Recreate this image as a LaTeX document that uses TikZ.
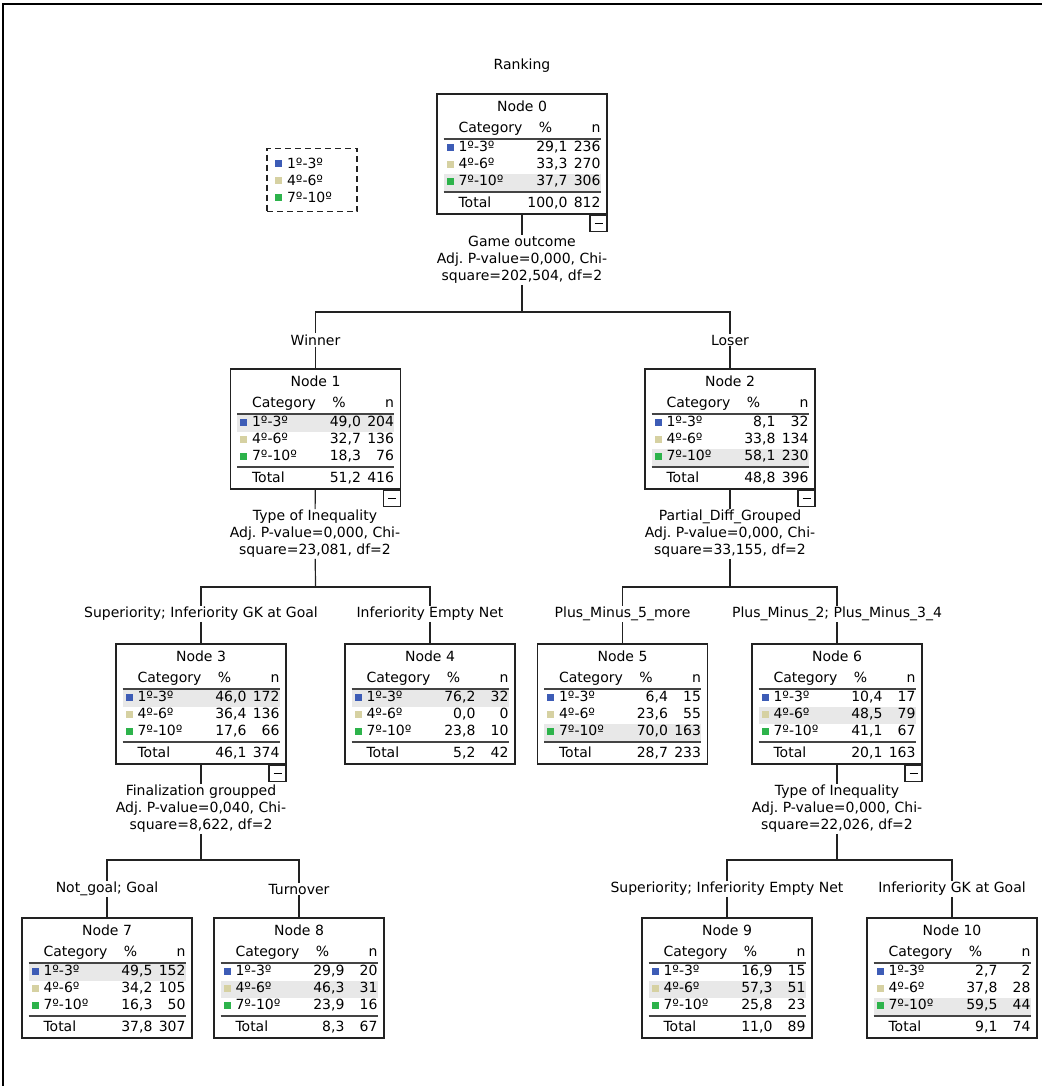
\documentclass[tikz,border=0pt]{standalone}
\usepackage{fontspec}
\setmainfont{DejaVu Sans}
\usepackage{colortbl}
\usetikzlibrary{positioning, calc}
\definecolor{cblue}{HTML}{3D5CB6}
\definecolor{ctan}{HTML}{D6D1A2}
\definecolor{cgreen}{HTML}{2DB34B}
\definecolor{hlgray}{HTML}{E8E8E8}
\definecolor{rulegray}{HTML}{444444}
\definecolor{kline}{HTML}{222222}

\frenchspacing
\setlength{\tabcolsep}{0pt}
\setlength{\arrayrulewidth}{2pt}
\arrayrulecolor{rulegray}
\newcolumntype{R}[1]{>{\raggedleft\arraybackslash}p{#1}}
\newcommand{\sq}[1]{\raisebox{1pt}{\textcolor{#1}{\rule{7pt}{7pt}}}}
\newcommand{\crow}[4]{\hspace{3pt}\sq{#1}\hspace{5pt}#2 & #3 & #4\\}
\newcommand{\chead}[1]{\noalign{\vskip5pt}\multicolumn{3}{c}{#1}\\[4pt] \hspace{15pt}Category & \multicolumn{1}{c}{\%} & n\\ \hline}
\newcommand{\ctot}[2]{\hline\noalign{\vskip3pt} \hspace{15pt}Total & #1 & #2\\}

\begin{document}
\begin{tikzpicture}[x=1pt, y=-1pt, font=\fontsize{14}{17}\selectfont]

\tikzstyle{tnode} = [draw=kline, line width=1.2pt, fill=white, inner xsep=6.5pt, inner ysep=1pt, minimum height=118pt]
\tikzstyle{edge} = [draw=kline, line width=1.2pt]
\tikzstyle{split} = [align=center, inner sep=1pt]
\tikzstyle{branch} = [fill=white, inner sep=1pt]
\tikzstyle{minus} = [draw=kline, line width=1.2pt, fill=white, minimum width=17pt, minimum height=16pt, inner sep=0pt]
\tikzstyle{legend} = [draw=kline, line width=1.2pt, dash pattern=on 6pt off 4pt, text width=74pt, inner xsep=8pt, inner ysep=9.5pt, align=left]

\useasboundingbox (0,0) rectangle (1042,1086);
\draw[line width=1.5pt] (3,1086) -- (3,4) -- (1042,4);

\node (title) at (522,66) {Ranking};

% Legend
\node[legend] (lg) at (312,180) {\sq{cblue}\hspace{5pt}1º-3º\\ \sq{ctan}\hspace{5pt}4º-6º\\ \sq{cgreen}\hspace{5pt}7º-10º};

% Root
\node[tnode] (n0) at (522,154) {\begin{tabular}{p{80pt}R{44pt}R{33pt}}
\chead{Node 0}
\crow{cblue}{1º-3º}{29,1}{236}
\crow{ctan}{4º-6º}{33,3}{270}
\rowcolor{hlgray}\crow{cgreen}{7º-10º}{37,7}{306}
\ctot{100,0}{812}
\end{tabular}};

% Level 1
\node[tnode] (n1) at (315.5,429) {\begin{tabular}{p{80pt}R{44pt}R{33pt}}
\chead{Node 1}
\rowcolor{hlgray}\crow{cblue}{1º-3º}{49,0}{204}
\crow{ctan}{4º-6º}{32,7}{136}
\crow{cgreen}{7º-10º}{18,3}{76}
\ctot{51,2}{416}
\end{tabular}};
\node[tnode] (n2) at (730,429) {\begin{tabular}{p{80pt}R{44pt}R{33pt}}
\chead{Node 2}
\crow{cblue}{1º-3º}{8,1}{32}
\crow{ctan}{4º-6º}{33,8}{134}
\rowcolor{hlgray}\crow{cgreen}{7º-10º}{58,1}{230}
\ctot{48,8}{396}
\end{tabular}};

% Level 2
\node[tnode] (n3) at (201,704) {\begin{tabular}{p{80pt}R{44pt}R{33pt}}
\chead{Node 3}
\rowcolor{hlgray}\crow{cblue}{1º-3º}{46,0}{172}
\crow{ctan}{4º-6º}{36,4}{136}
\crow{cgreen}{7º-10º}{17,6}{66}
\ctot{46,1}{374}
\end{tabular}};
\node[tnode] (n4) at (430,704) {\begin{tabular}{p{80pt}R{44pt}R{33pt}}
\chead{Node 4}
\rowcolor{hlgray}\crow{cblue}{1º-3º}{76,2}{32}
\crow{ctan}{4º-6º}{0,0}{0}
\crow{cgreen}{7º-10º}{23,8}{10}
\ctot{5,2}{42}
\end{tabular}};
\node[tnode] (n5) at (622.5,704) {\begin{tabular}{p{80pt}R{44pt}R{33pt}}
\chead{Node 5}
\crow{cblue}{1º-3º}{6,4}{15}
\crow{ctan}{4º-6º}{23,6}{55}
\rowcolor{hlgray}\crow{cgreen}{7º-10º}{70,0}{163}
\ctot{28,7}{233}
\end{tabular}};
\node[tnode] (n6) at (837,704) {\begin{tabular}{p{80pt}R{44pt}R{33pt}}
\chead{Node 6}
\crow{cblue}{1º-3º}{10,4}{17}
\rowcolor{hlgray}\crow{ctan}{4º-6º}{48,5}{79}
\crow{cgreen}{7º-10º}{41,1}{67}
\ctot{20,1}{163}
\end{tabular}};

% Level 3
\node[tnode] (n7) at (107,978) {\begin{tabular}{p{80pt}R{44pt}R{33pt}}
\chead{Node 7}
\rowcolor{hlgray}\crow{cblue}{1º-3º}{49,5}{152}
\crow{ctan}{4º-6º}{34,2}{105}
\crow{cgreen}{7º-10º}{16,3}{50}
\ctot{37,8}{307}
\end{tabular}};
\node[tnode] (n8) at (299,978) {\begin{tabular}{p{80pt}R{44pt}R{33pt}}
\chead{Node 8}
\crow{cblue}{1º-3º}{29,9}{20}
\rowcolor{hlgray}\crow{ctan}{4º-6º}{46,3}{31}
\crow{cgreen}{7º-10º}{23,9}{16}
\ctot{8,3}{67}
\end{tabular}};
\node[tnode] (n9) at (727,978) {\begin{tabular}{p{80pt}R{44pt}R{33pt}}
\chead{Node 9}
\crow{cblue}{1º-3º}{16,9}{15}
\rowcolor{hlgray}\crow{ctan}{4º-6º}{57,3}{51}
\crow{cgreen}{7º-10º}{25,8}{23}
\ctot{11,0}{89}
\end{tabular}};
\node[tnode] (n10) at (952,978) {\begin{tabular}{p{80pt}R{44pt}R{33pt}}
\chead{Node 10}
\crow{cblue}{1º-3º}{2,7}{2}
\crow{ctan}{4º-6º}{37,8}{28}
\rowcolor{hlgray}\crow{cgreen}{7º-10º}{59,5}{44}
\ctot{9,1}{74}
\end{tabular}};

% Collapse boxes
\node[minus, below left=0pt and 0pt of n0.south east] (m0) {\rule{8pt}{1.2pt}};
\node[minus, below left=0pt and 0pt of n1.south east] (m1) {\rule{8pt}{1.2pt}};
\node[minus, below left=0pt and 0pt of n2.south east] (m2) {\rule{8pt}{1.2pt}};
\node[minus, below left=0pt and 0pt of n3.south east] (m3) {\rule{8pt}{1.2pt}};
\node[minus, below left=0pt and 0pt of n6.south east] (m6) {\rule{8pt}{1.2pt}};

% Split labels
\node[split] (s0) at (522,260) {Game outcome\\Adj. P-value=0,000, Chi-\\square=202,504, df=2};
\node[split] (s1) at (315,534) {Type of Inequality\\Adj. P-value=0,000, Chi-\\square=23,081, df=2};
\node[split] (s2) at (730,534) {Partial\_Diff\_Grouped\\Adj. P-value=0,000, Chi-\\square=33,155, df=2};
\node[split] (s3) at (201,809) {Finalization groupped\\Adj. P-value=0,040, Chi-\\square=8,622, df=2};
\node[split] (s6) at (837,809) {Type of Inequality\\Adj. P-value=0,000, Chi-\\square=22,026, df=2};

% Junctions
\coordinate (j0) at (522,312);
\coordinate (j1) at (315.5,587);
\coordinate (j2) at (730,587);
\coordinate (j3) at (201,860);
\coordinate (j6) at (837,860);

% Branch labels
\node[branch] (b1) at (315.5,340) {Winner};
\node[branch] (b2) at (730,340) {Loser};
\node[branch] (b3) at (201,614) {Superiority; Inferiority GK at Goal};
\node[branch] (b4) at (430,614) {Inferiority Empty Net};
\node[branch] (b5) at (622.5,614) {Plus\_Minus\_5\_more};
\node[branch] (b6) at (837,614) {Plus\_Minus\_2; Plus\_Minus\_3\_4};
\node[branch] (b7) at (107,889) {Not\_goal; Goal};
\node[branch] (b8) at (299,889) {Turnover};
\node[branch] (b9) at (727,889) {Superiority; Inferiority Empty Net};
\node[branch] (b10) at (952,889) {Inferiority GK at Goal};

% Connectors
\path[edge] (n0) -- (s0) -- (j0);
\path[edge] (j0) -| (b1) -- (n1);
\path[edge] (j0) -| (b2) -- (n2);
\path[edge] (n1) -- (s1) -- (j1);
\path[edge] (j1) -| (b3) -- (n3);
\path[edge] (j1) -| (b4) -- (n4);
\path[edge] (n2) -- (s2) -- (j2);
\path[edge] (j2) -| (b5) -- (n5);
\path[edge] (j2) -| (b6) -- (n6);
\path[edge] (n3) -- (s3) -- (j3);
\path[edge] (j3) -| (b7) -- (n7);
\path[edge] (j3) -| (b8) -- (n8);
\path[edge] (n6) -- (s6) -- (j6);
\path[edge] (j6) -| (b9) -- (n9);
\path[edge] (j6) -| (b10) -- (n10);

\end{tikzpicture}
\end{document}
